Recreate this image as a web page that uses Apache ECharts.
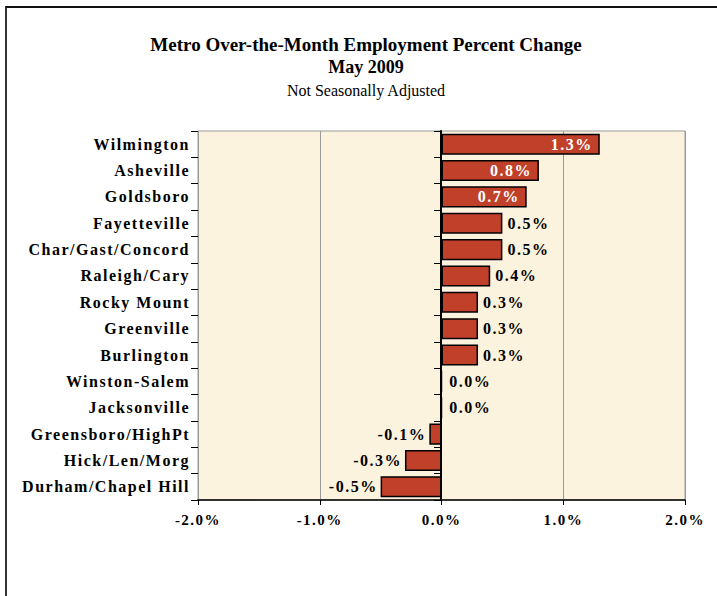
<!DOCTYPE html>
<html>
<head>
<meta charset="utf-8">
<script src="https://cdn.jsdelivr.net/npm/echarts@6/dist/echarts.min.js"></script>
<style>
	html, body { margin: 0; padding: 0; background: #fff; }
	#frame {
		position: absolute; left: 5px; top: 6px; width: 720px; height: 600px;
		border-left: 2px solid #333; border-top: 2px solid #111;
	}
	#main { position: absolute; left: 0; top: 0; width: 717px; height: 596px; }
	/* the source chart spaces its bold labels out a little */
	#main text { letter-spacing: 1.5px; }
	#main text.ttl { letter-spacing: 0; }
</style>
</head>
<body>
<div id="frame"></div>
<div id="main"></div>
<script>
	// metro areas, top to bottom
	var metros = ['Wilmington', 'Asheville', 'Goldsboro', 'Fayetteville', 'Char/Gast/Concord',
		'Raleigh/Cary', 'Rocky Mount', 'Greenville', 'Burlington', 'Winston-Salem',
		'Jacksonville', 'Greensboro/HighPt', 'Hick/Len/Morg', 'Durham/Chapel Hill'];
	var pctChange = [1.3, 0.8, 0.7, 0.5, 0.5, 0.4, 0.3, 0.3, 0.3, 0.0, 0.0, -0.1, -0.3, -0.5];
	var xTicks = [-2, -1, 0, 1, 2];
	var titles = ['Metro Over-the-Month Employment Percent Change', 'May 2009', 'Not Seasonally Adjusted'];

	var serif = '"Liberation Serif", "Times New Roman", serif';
	var zeroX = 441;
	var gridLeft = 198;

	var barData = [];
	for (var i = 0; i < pctChange.length; i++) {
		var v = pctChange[i];
		var lbl;
		if (v >= 0.7) {
			lbl = { position: 'insideRight', color: '#fff', distance: 7 };
		} else if (v < 0) {
			lbl = { position: 'left', color: '#000', distance: 3 };
		} else {
			lbl = { position: 'right', color: '#000', distance: v === 0 ? 7 : 5 };
		}
		barData.push({ value: v, label: lbl });
	}

	var chart = echarts.init(document.getElementById('main'), null, { renderer: 'svg' });
	var option = {
		animation: false,
		title: [
			{ text: titles[0], left: 361, top: 30, textAlign: 'center',
				textStyle: { fontFamily: serif, fontWeight: 'bold', fontSize: 19, color: '#000' } },
			{ text: titles[1], left: 361, top: 53, textAlign: 'center',
				textStyle: { fontFamily: serif, fontWeight: 'bold', fontSize: 18, color: '#000' } },
			{ text: titles[2], left: 361, top: 77, textAlign: 'center',
				textStyle: { fontFamily: serif, fontWeight: 'normal', fontSize: 16, color: '#000' } }
		],
		grid: {
			left: gridLeft, right: 32, top: 131, bottom: 96,
			show: true, backgroundColor: '#FCF3DE', borderColor: '#9a9a9a', borderWidth: 1
		},
		xAxis: {
			type: 'value', min: -2, max: 2, interval: 1,
			axisLine: { show: true, lineStyle: { color: '#000', width: 1.5 } },
			axisTick: { show: true, length: 5, lineStyle: { color: '#000' } },
			splitLine: { show: true, lineStyle: { color: '#9a9a9a', width: 1 } },
			axisLabel: {
				margin: 12, color: '#000', fontFamily: serif, fontWeight: 'bold', fontSize: 15,
				formatter: function (v) { return v.toFixed(1) + '%'; },
				customValues: xTicks
			}
		},
		yAxis: [
			{
				type: 'category', data: metros, inverse: true, position: 'left',
				axisLine: { show: false, onZero: false },
				axisTick: { show: true, length: 7, lineStyle: { color: '#000' } },
				axisLabel: { margin: 8, color: '#000', fontFamily: serif, fontWeight: 'bold', fontSize: 16 }
			},
			{
				type: 'category', data: metros, inverse: true, position: 'left',
				offset: -(zeroX - gridLeft),
				axisLine: { show: true, onZero: false, lineStyle: { color: '#000', width: 2 } },
				axisTick: { show: true, length: 7, lineStyle: { color: '#000' } },
				axisLabel: { show: false }
			}
		],
		series: [{
			type: 'bar', yAxisIndex: 0, data: barData, barCategoryGap: '20%',
			itemStyle: { color: '#C0402A', borderColor: '#000', borderWidth: 1.5 },
			label: {
				show: true, fontFamily: serif, fontWeight: 'bold', fontSize: 16,
				formatter: function (p) { return p.value.toFixed(1) + '%'; }
			}
		}]
	};
	chart.setOption(option);

	// keep the three title lines unspaced
	var texts = document.querySelectorAll('#main text');
	for (var k = 0; k < texts.length; k++) {
		if (titles.indexOf(texts[k].textContent) >= 0) texts[k].setAttribute('class', 'ttl');
	}
</script>
</body>
</html>
